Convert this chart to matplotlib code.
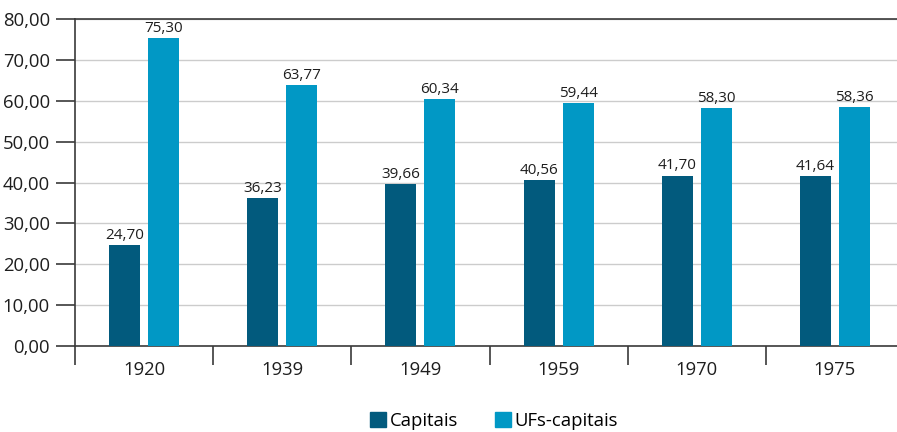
import matplotlib
matplotlib.use("Agg")
import matplotlib.pyplot as plt
import numpy as np
from matplotlib.patches import Patch

years = ["1920", "1939", "1949", "1959", "1970", "1975"]
capitais = [24.70, 36.23, 39.66, 40.56, 41.70, 41.64]
ufs_capitais = [75.30, 63.77, 60.34, 59.44, 58.30, 58.36]
series_names = ["Capitais", "UFs-capitais"]
yticks = [0, 10, 20, 30, 40, 50, 60, 70, 80]

c_dark = "#025A7D"
c_light = "#0198C5"
axis_col = "#3a3a3a"
text_col = "#1e1e1e"

plt.rcParams['font.family'] = ['Open Sans', 'DejaVu Sans']

fig = plt.figure(figsize=(8.97, 4.32), dpi=100)
ax = fig.add_axes([75/897, 1-346/432, 829/897, (346-19)/432])

x = np.arange(len(years))
w = 0.224
off = 0.141
b1 = ax.bar(x - off, capitais, w, color=c_dark, zorder=3)
b2 = ax.bar(x + off, ufs_capitais, w, color=c_light, zorder=3)

def fmt(v):
    return f"{v:.2f}".replace(".", ",")

for rects, vals in ((b1, capitais), (b2, ufs_capitais)):
    for r, v in zip(rects, vals):
        ax.annotate(fmt(v), (r.get_x() + r.get_width()/2, v), xytext=(0, 1.5),
                    textcoords="offset points", ha="center", va="bottom",
                    fontsize=11, color=text_col, zorder=4)

ax.set_xlim(-0.5, len(years) - 0.5)
ax.set_ylim(0, 80)
ax.set_yticks(yticks)
ax.set_yticklabels([fmt(v) for v in yticks], fontsize=13.3, color=text_col)
ax.yaxis.grid(True, color="#cccccc", linewidth=1, zorder=0)
ax.set_axisbelow(True)

ax.set_xticks(x)
ax.set_xticklabels(years, fontsize=13.3, color=text_col)
ax.tick_params(axis="x", length=0, pad=11)
ax.set_xticks(np.arange(len(years)) - 0.5, minor=True)
ax.tick_params(axis="x", which="minor", length=14, width=1.2, color=axis_col)
ax.tick_params(axis="y", length=14, width=1.2, color=axis_col, pad=4)

for s in ["left", "bottom", "top"]:
    ax.spines[s].set_color(axis_col)
    ax.spines[s].set_linewidth(1.2)
ax.spines["right"].set_visible(False)

handles = [Patch(color=c_dark), Patch(color=c_light)]
fig.legend(handles, series_names, loc="center", bbox_to_anchor=(0.551, 0.025),
           ncol=2, frameon=False, fontsize=13.3, handlelength=0.85, handleheight=0.85,
           handletextpad=0.2, columnspacing=2.0)

fig.savefig("out.png", dpi=100)
